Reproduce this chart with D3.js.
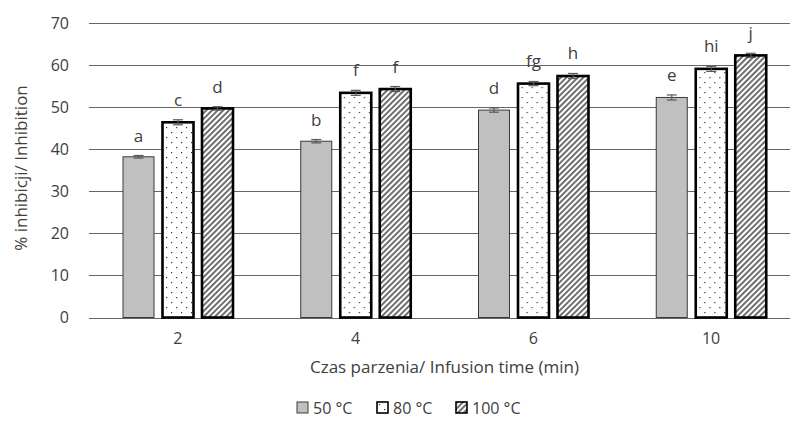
<!DOCTYPE html>
<html>
<head>
<meta charset="utf-8">
<script src="https://cdn.jsdelivr.net/npm/d3@7"></script>
<style>
  body { margin: 0; background: #fff; }
  text { font-family: "Open Sans", "Liberation Sans", sans-serif; fill: #404040; }
</style>
</head>
<body>
<script>
const categories = ["2", "4", "6", "10"];
const series = ["50 °C", "80 °C", "100 °C"];
const values50 = [38.2, 41.9, 49.3, 52.3];
const values80 = [46.4, 53.4, 55.6, 59.1];
const values100 = [49.7, 54.3, 57.4, 62.3];
const err50 = [0.3, 0.4, 0.5, 0.6];
const err80 = [0.6, 0.6, 0.5, 0.6];
const err100 = [0.4, 0.6, 0.6, 0.5];
const letters50 = ["a", "b", "d", "e"];
const letters80 = ["c", "f", "fg", "hi"];
const letters100 = ["d", "f", "h", "j"];
const yTicks = [0, 10, 20, 30, 40, 50, 60, 70];

const width = 790, height = 425;
const margin = {top: 23, right: -10, bottom: 108, left: 89};

const values = [values50, values80, values100];
const errs = [err50, err80, err100];
const letters = [letters50, letters80, letters100];

const data = categories.map((c, i) => ({
    cat: c,
    bars: series.map((s, j) => ({s, j, value: values[j][i], err: errs[j][i], letter: letters[j][i]}))
}));

const svg = d3.select("body").append("svg")
    .attr("width", width)
    .attr("height", height);

const defs = svg.append("defs");
const dots = defs.append("pattern")
    .attr("id", "dots")
    .attr("patternUnits", "userSpaceOnUse")
    .attr("width", 10).attr("height", 10);
dots.append("rect").attr("width", 10).attr("height", 10).attr("fill", "#fff");
dots.append("rect").attr("x", 2).attr("y", 2).attr("width", 1.2).attr("height", 1.2).attr("fill", "#333");
dots.append("rect").attr("x", 7).attr("y", 7).attr("width", 1.2).attr("height", 1.2).attr("fill", "#333");

const hatch = defs.append("pattern")
    .attr("id", "hatch")
    .attr("patternUnits", "userSpaceOnUse")
    .attr("width", 4).attr("height", 4)
    .attr("patternTransform", "rotate(45)");
hatch.append("rect").attr("width", 4).attr("height", 4).attr("fill", "#fff");
hatch.append("line").attr("x1", 1).attr("y1", 0).attr("x2", 1).attr("y2", 4)
    .attr("stroke", "#222").attr("stroke-width", 1.3);

const fills = ["#c0c0c0", "url(#dots)", "url(#hatch)"];
const strokes = ["#3a3a3a", "#000", "#000"];
const strokeW = [1, 2.6, 2.6];

const x0 = d3.scaleBand()
    .domain(categories)
    .range([margin.left, width - margin.right]);

const x1 = d3.scaleBand()
    .domain(series)
    .range([34, 144])
    .paddingInner(0.215);

const y = d3.scaleLinear()
    .domain([0, 70])
    .range([height - margin.bottom + 0.5, margin.top]);

// gridlines
svg.append("g")
    .selectAll("line")
    .data(yTicks)
    .join("line")
    .attr("x1", margin.left)
    .attr("x2", width)
    .attr("y1", d => Math.round(y(d)) + 0.5)
    .attr("y2", d => Math.round(y(d)) + 0.5)
    .attr("stroke", "#666")
    .attr("stroke-width", 1.2);

// y tick labels
svg.append("g")
    .selectAll("text")
    .data(yTicks)
    .join("text")
    .attr("x", 69)
    .attr("y", d => y(d))
    .attr("dy", "0.35em")
    .attr("text-anchor", "end")
    .attr("font-size", 16)
    .text(d => d);

const groups = svg.append("g")
    .selectAll("g")
    .data(data)
    .join("g")
    .attr("transform", d => `translate(${x0(d.cat)},0)`);

groups.selectAll("rect")
    .data(d => d.bars)
    .join("rect")
    .attr("x", d => x1(d.s))
    .attr("y", d => y(d.value))
    .attr("width", x1.bandwidth())
    .attr("height", d => y(0) - y(d.value))
    .attr("fill", d => fills[d.j])
    .attr("stroke", d => strokes[d.j])
    .attr("stroke-width", d => strokeW[d.j]);

// error bars
const eb = groups.selectAll("g.err")
    .data(d => d.bars)
    .join("g")
    .attr("class", "err")
    .attr("stroke", "#595959")
    .attr("stroke-width", 1.2);
eb.append("line")
    .attr("x1", d => x1(d.s) + x1.bandwidth() / 2)
    .attr("x2", d => x1(d.s) + x1.bandwidth() / 2)
    .attr("y1", d => y(d.value + d.err))
    .attr("y2", d => y(d.value - d.err));
eb.append("line")
    .attr("x1", d => x1(d.s) + x1.bandwidth() / 2 - 5)
    .attr("x2", d => x1(d.s) + x1.bandwidth() / 2 + 5)
    .attr("y1", d => y(d.value + d.err))
    .attr("y2", d => y(d.value + d.err));
eb.append("line")
    .attr("x1", d => x1(d.s) + x1.bandwidth() / 2 - 5)
    .attr("x2", d => x1(d.s) + x1.bandwidth() / 2 + 5)
    .attr("y1", d => y(d.value - d.err))
    .attr("y2", d => y(d.value - d.err));

// significance letters
groups.selectAll("text.lbl")
    .data(d => d.bars)
    .join("text")
    .attr("class", "lbl")
    .attr("x", d => x1(d.s) + x1.bandwidth() / 2)
    .attr("y", d => y(d.value + d.err) - 14)
    .attr("text-anchor", "middle")
    .attr("font-size", 17)
    .text(d => d.letter);

// category labels
svg.append("g")
    .selectAll("text")
    .data(categories)
    .join("text")
    .attr("x", d => x0(d) + x0.bandwidth() / 2)
    .attr("y", 344)
    .attr("text-anchor", "middle")
    .attr("font-size", 16)
    .text(d => d);

// axis titles
svg.append("text")
    .attr("x", (margin.left + width - margin.right) / 2)
    .attr("y", 373)
    .attr("text-anchor", "middle")
    .attr("font-size", 17)
    .text("Czas parzenia/ Infusion time (min)");

svg.append("text")
    .attr("transform", "translate(27,168) rotate(-90)")
    .attr("text-anchor", "middle")
    .attr("font-size", 17)
    .text("% inhibicji/ Inhibition");

// legend
const legX = [297, 377, 456];
const leg = svg.append("g")
    .selectAll("g")
    .data(series)
    .join("g")
    .attr("transform", (d, i) => `translate(${legX[i]},402)`);
leg.append("rect")
    .attr("width", 11).attr("height", 11)
    .attr("fill", (d, i) => fills[i])
    .attr("stroke", (d, i) => strokes[i])
    .attr("stroke-width", (d, i) => i === 0 ? 1 : 1.6);
leg.append("text")
    .attr("x", 16)
    .attr("y", 12)
    .attr("font-size", 16)
    .text(d => d);
</script>
</body>
</html>
